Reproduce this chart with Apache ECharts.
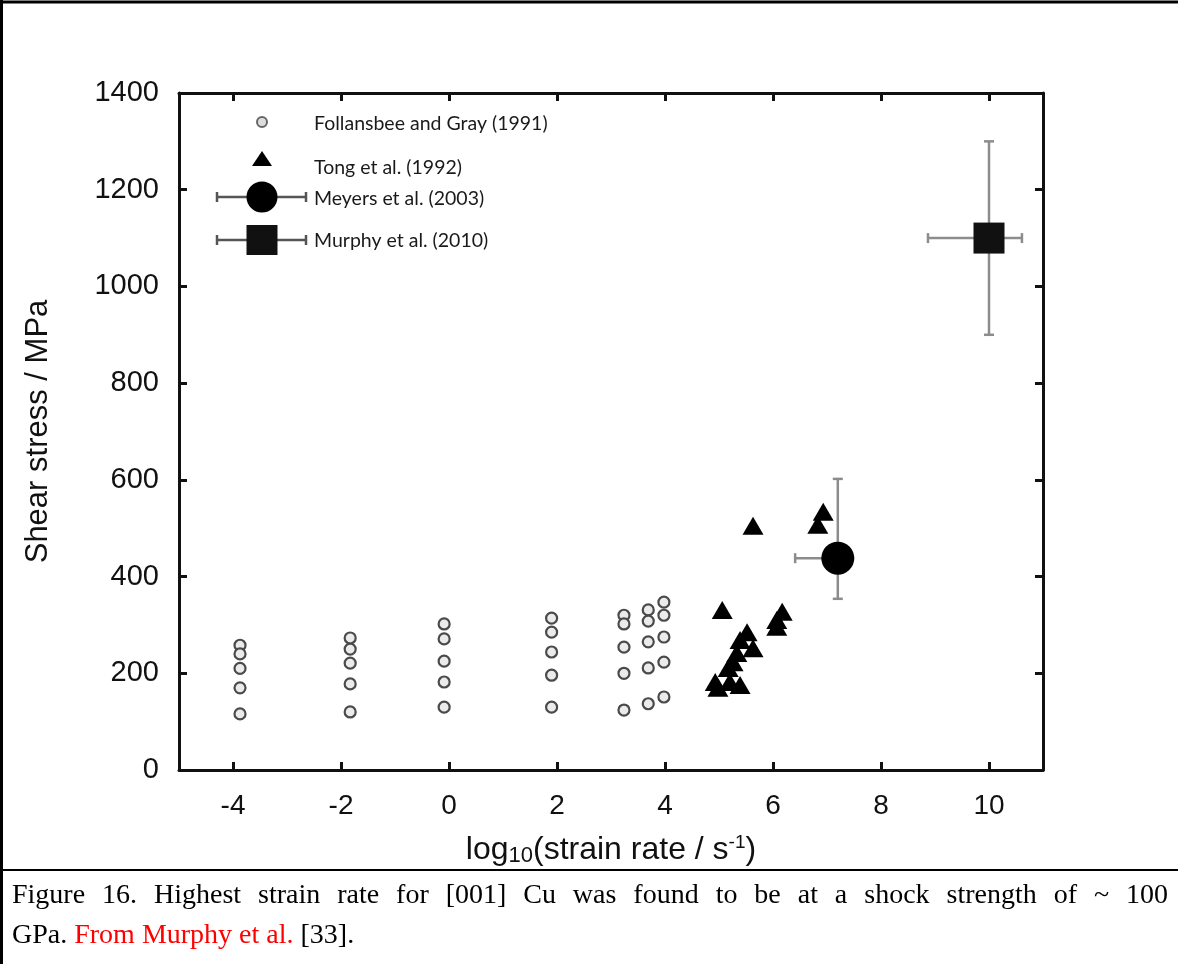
<!DOCTYPE html>
<html><head><meta charset="utf-8">
<script src="https://cdn.jsdelivr.net/npm/echarts@6/dist/echarts.min.js"></script>
<style>html,body{margin:0;padding:0;background:#fff}#c{width:1178px;height:964px}</style>
</head><body><div id="c"></div>
<script>
// ---------- data ----------
const xTicks = [-4, -2, 0, 2, 4, 6, 8, 10];
const yTicks = [0, 200, 400, 600, 800, 1000, 1200, 1400];

// Follansbee and Gray (1991): columns of points
const follansbeeColumnX = [-3.87, -1.83, -0.09, 1.9, 3.24, 3.69, 3.98];
const follansbeeColumnY = [
  [258, 240, 210, 170, 116],
  [273, 250, 221, 178, 120],
  [302, 271, 225, 182, 130],
  [314, 285, 244, 196, 130],
  [320, 302, 254, 200, 124],
  [331, 308, 265, 211, 137],
  [347, 320, 275, 223, 151]
];

// Tong et al. (1992)
const tongX = [5.63, 6.93, 6.83, 5.06, 6.17, 6.07, 6.07, 5.52, 5.39, 5.63, 5.33, 5.26, 5.17, 4.93, 5.2, 5.39, 4.98];
const tongY = [505, 534, 507, 331, 327, 310, 296, 285, 269, 252, 242, 223, 211, 182, 182, 176, 170];

// Meyers et al. (2003): [x, y], x-range, y-range
const meyersPoint = [7.2, 438];
const meyersXRange = [6.41, 7.2];
const meyersYRange = [354, 602];

// Murphy et al. (2010)
const murphyPoint = [10, 1100];
const murphyXRange = [8.87, 10.61];
const murphyYRange = [900, 1300];

const seriesNames = ['Follansbee and Gray (1991)', 'Tong et al. (1992)', 'Meyers et al. (2003)', 'Murphy et al. (2010)'];
const yAxisTitle = 'Shear stress / MPa';
const captionLine1 = 'Figure 16. Highest strain rate for [001] Cu was found to be at a shock strength of ~ 100';
const captionLine2 = ['GPa. ', 'From Murphy et al.', ' [33].'];

// ---------- build ----------
const follansbeeData = [];
follansbeeColumnX.forEach((x, i) => follansbeeColumnY[i].forEach(y => follansbeeData.push([x, y])));
const tongData = tongX.map((x, i) => [x, tongY[i]]);
const errData = [
  [meyersPoint[0], meyersPoint[1], meyersXRange[0], meyersXRange[1], meyersYRange[0], meyersYRange[1]],
  [murphyPoint[0], murphyPoint[1], murphyXRange[0], murphyXRange[1], murphyYRange[0], murphyYRange[1]]
];

const chart = echarts.init(document.getElementById('c'), null, {renderer: 'canvas'});

function errorBar(params, api) {
  const x = api.value(0), y = api.value(1);
  const xl = api.value(2), xh = api.value(3), yl = api.value(4), yh = api.value(5);
  const c = api.coord([x, y]);
  const pxl = api.coord([xl, y])[0], pxh = api.coord([xh, y])[0];
  const pyl = api.coord([x, yl])[1], pyh = api.coord([x, yh])[1];
  const cap = 5;
  const style = {stroke: '#8c8c8c', lineWidth: 2.5};
  const ch = [
    {type: 'line', shape: {x1: pxl, y1: c[1], x2: pxh, y2: c[1]}, style},
    {type: 'line', shape: {x1: c[0], y1: pyl, x2: c[0], y2: pyh}, style}
  ];
  if (xl !== x) ch.push({type: 'line', shape: {x1: pxl, y1: c[1] - cap, x2: pxl, y2: c[1] + cap}, style});
  if (xh !== x) ch.push({type: 'line', shape: {x1: pxh, y1: c[1] - cap, x2: pxh, y2: c[1] + cap}, style});
  if (yl !== y) ch.push({type: 'line', shape: {x1: c[0] - cap, y1: pyl, x2: c[0] + cap, y2: pyl}, style});
  if (yh !== y) ch.push({type: 'line', shape: {x1: c[0] - cap, y1: pyh, x2: c[0] + cap, y2: pyh}, style});
  return {type: 'group', children: ch};
}

const axisLineStyle = {color: '#111', width: 3};
const tickStyle = {show: true, inside: true, length: 8, lineStyle: {color: '#111', width: 3}};

// ---------- legend graphics ----------
const legendX = 262, textX = 314;
const legStyle = {stroke: '#555', lineWidth: 2.5};
function errH(y) {
  return [
    {type: 'line', shape: {x1: 217, y1: y, x2: 306, y2: y}, style: legStyle},
    {type: 'line', shape: {x1: 217, y1: y - 5, x2: 217, y2: y + 5}, style: legStyle},
    {type: 'line', shape: {x1: 306, y1: y - 5, x2: 306, y2: y + 5}, style: legStyle}
  ];
}
const legTextStyle = (t, y) => ({type: 'text', x: textX, y: y, style: {text: t, font: '19.5px Lato', fill: '#1a1a1a', textVerticalAlign: 'middle'}});
const graphics = [
  {type: 'circle', shape: {cx: legendX, cy: 122, r: 5}, style: {fill: '#ddd', stroke: '#666', lineWidth: 2}},
  legTextStyle(seriesNames[0], 124),
  {type: 'polygon', shape: {points: [[legendX, 151], [legendX - 10, 166], [legendX + 10, 166]]}, style: {fill: '#000'}},
  legTextStyle(seriesNames[1], 168),
  ...errH(197),
  {type: 'circle', shape: {cx: legendX, cy: 197, r: 15.5}, style: {fill: '#000'}},
  legTextStyle(seriesNames[2], 199),
  ...errH(240),
  {type: 'rect', shape: {x: legendX - 15.5, y: 225, width: 31, height: 30}, style: {fill: '#111'}},
  legTextStyle(seriesNames[3], 241),
  // frame lines
  {type: 'line', shape: {x1: 0, y1: 2, x2: 1178, y2: 2}, style: {stroke: '#000', lineWidth: 3}},
  {type: 'line', shape: {x1: 1.5, y1: 0, x2: 1.5, y2: 964}, style: {stroke: '#000', lineWidth: 3}},
  {type: 'line', shape: {x1: 0, y1: 870, x2: 1178, y2: 870}, style: {stroke: '#000', lineWidth: 2}}
];

// caption line 1 justified
const capFont = '28px "Liberation Serif"';
const cv = document.createElement('canvas').getContext('2d');
cv.font = capFont;
const words = captionLine1.split(' ');
const widths = words.map(w => cv.measureText(w).width);
const left = 12, right = 1168;
const gap = (right - left - widths.reduce((a, b) => a + b, 0)) / (words.length - 1);
let cx = left;
words.forEach((w, i) => {
  graphics.push({type: 'text', x: cx, y: 896, style: {text: w, font: capFont, fill: '#000', textVerticalAlign: 'middle'}});
  cx += widths[i] + gap;
});
graphics.push({
  type: 'text', x: left, y: 936,
  style: {
    text: '{a|' + captionLine2[0] + '}{r|' + captionLine2[1] + '}{a|' + captionLine2[2] + '}',
    textVerticalAlign: 'middle',
    rich: {
      a: {fontFamily: 'Liberation Serif', fontSize: 28, fill: '#000'},
      r: {fontFamily: 'Liberation Serif', fontSize: 28, fill: '#ff0000'}
    }
  }
});

const option = {
  animation: false,
  backgroundColor: '#fff',
  grid: {left: 179, top: 93, right: 135, bottom: 194, containLabel: false},
  xAxis: [
    {
      type: 'value', min: -5, max: 11, position: 'bottom',
      axisLine: {show: true, onZero: false, lineStyle: axisLineStyle},
      axisTick: Object.assign({customValues: xTicks}, tickStyle),
      axisLabel: {customValues: xTicks, margin: 22, fontFamily: 'Liberation Sans', fontSize: 28, color: '#111'},
      splitLine: {show: false},
      name: '{m|log}{s|10}{m|(strain rate / s}{p|-1}{m|)}',
      nameLocation: 'middle', nameGap: 63,
      nameTextStyle: {
        rich: {
          m: {fontFamily: 'Liberation Sans', fontSize: 32, color: '#111', lineHeight: 34},
          s: {fontFamily: 'Liberation Sans', fontSize: 22, color: '#111', lineHeight: 22, verticalAlign: 'bottom'},
          p: {fontFamily: 'Liberation Sans', fontSize: 19, color: '#111', lineHeight: 19, verticalAlign: 'top'}
        }
      }
    },
    {
      type: 'value', min: -5, max: 11, position: 'top',
      axisLine: {show: true, onZero: false, lineStyle: axisLineStyle},
      axisTick: Object.assign({customValues: xTicks}, tickStyle),
      axisLabel: {show: false},
      splitLine: {show: false}
    }
  ],
  yAxis: [
    {
      type: 'value', min: 0, max: 1400, interval: 200, position: 'left',
      axisLine: {show: true, onZero: false, lineStyle: axisLineStyle},
      axisTick: tickStyle,
      axisLabel: {margin: 20, fontFamily: 'Liberation Sans', fontSize: 29, color: '#111', formatter: v => String(v)},
      splitLine: {show: false},
      name: yAxisTitle, nameLocation: 'middle', nameGap: 125,
      nameTextStyle: {fontFamily: 'Liberation Sans', fontSize: 31, color: '#111'}
    },
    {
      type: 'value', min: 0, max: 1400, interval: 200, position: 'right',
      axisLine: {show: true, onZero: false, lineStyle: axisLineStyle},
      axisTick: tickStyle,
      axisLabel: {show: false},
      splitLine: {show: false}
    }
  ],
  graphic: graphics,
  series: [
    {
      name: seriesNames[0], type: 'scatter', data: follansbeeData, symbol: 'circle', symbolSize: 11,
      itemStyle: {color: '#ebebeb', borderColor: '#4a4a4a', borderWidth: 2.2, opacity: 1}, z: 3
    },
    {
      type: 'custom', renderItem: errorBar, data: errData, encode: {x: 0, y: 1}, z: 2, silent: true
    },
    {
      name: seriesNames[1], type: 'scatter', data: tongData, symbol: 'triangle', symbolSize: [21, 18],
      itemStyle: {color: '#000', opacity: 1}, z: 4
    },
    {
      name: seriesNames[2], type: 'scatter', data: [meyersPoint], symbol: 'circle', symbolSize: 33,
      itemStyle: {color: '#000', opacity: 1}, z: 5
    },
    {
      name: seriesNames[3], type: 'scatter', data: [murphyPoint], symbol: 'rect', symbolSize: 31,
      itemStyle: {color: '#111', opacity: 1}, z: 5
    }
  ]
};
chart.setOption(option);
</script>
</body></html>
